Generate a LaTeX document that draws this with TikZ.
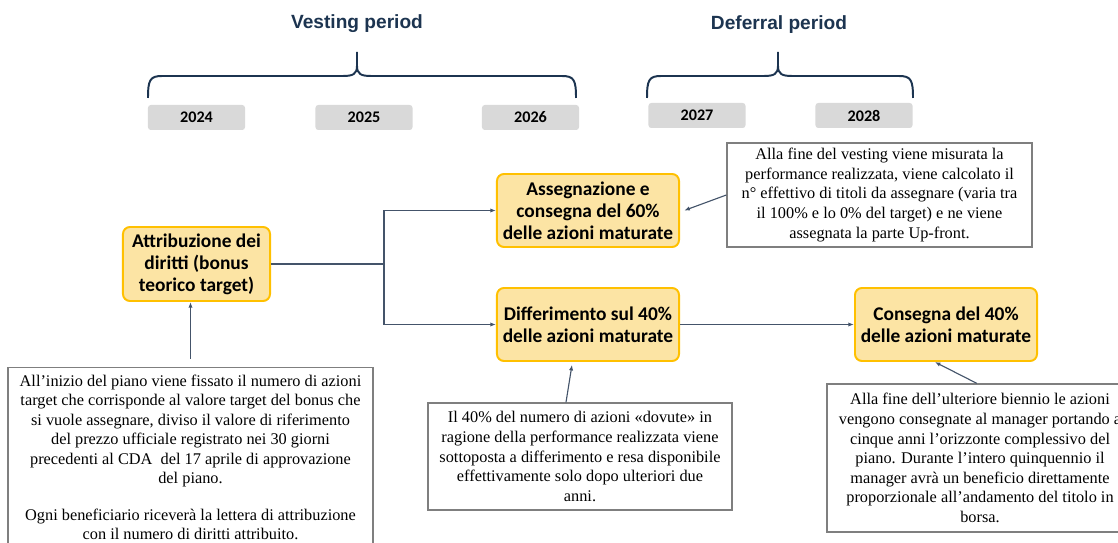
\documentclass[tikz,border=0pt]{standalone}
\usepackage{fontspec}
\setmainfont{Liberation Serif}
\newfontfamily\calibri{Carlito}
\newfontfamily\arial{Liberation Sans}
\usetikzlibrary{arrows.meta}
\definecolor{giallo}{HTML}{FCE4A4}
\definecolor{oro}{HTML}{FFC000}
\definecolor{grigio}{HTML}{D9D9D9}
\definecolor{bordo}{HTML}{7F7F7F}
\definecolor{linea}{HTML}{44546A}
\definecolor{blu}{HTML}{1C3450}
\tikzset{
  titolo/.style={text=blu, font=\arial\bfseries\fontsize{13.6}{16}\selectfont},
  anno/.style={fill=grigio, rounded corners=2pt, minimum width=2.425cm, minimum height=0.625cm, font=\calibri\bfseries\fontsize{11.5}{13}\selectfont},
  fase/.style={draw=oro, line width=1.4pt, fill=giallo, rounded corners=5pt, align=center, minimum width=4.55cm, minimum height=1.825cm, font=\calibri\bfseries\fontsize{13.8}{15.6}\selectfont},
  nota/.style={draw=bordo, line width=0.9pt, fill=white, align=center, font=\fontsize{11.6}{13.9}\selectfont},
  freccia/.style={draw=linea, line width=0.8pt, -{Latex[length=4pt,width=3pt]}},
  graffa/.style={draw=blu, line width=1.4pt, line join=round}
}
\begin{document}
\begin{tikzpicture}[x=0.025cm, y=-0.025cm]
\clip (0,0) rectangle (1118,543);
% periodi
\node[titolo] (vesting) at (357,24) {Vesting period};
\node[titolo] (deferral) at (779,25) {Deferral period};
\foreach \a/\c/\b in {148/357/576, 647/778/913}{
  \draw[graffa] (\a,98) .. controls (\a,80) and (\a+2,76) .. (\a+14,76) -- (\c-14,76)
    .. controls (\c-4,76) and (\c,74) .. (\c,66) -- (\c,52)
    (\c,66) .. controls (\c,74) and (\c+4,76) .. (\c+14,76) -- (\b-14,76)
    .. controls (\b-2,76) and (\b,80) .. (\b,98);
}
\node[anno] (a2024) at (196.5,117.5) {2024};
\node[anno] (a2025) at (364,117.5) {2025};
\node[anno] (a2026) at (530.5,117.5) {2026};
\node[anno] (a2027) at (697,115.5) {2027};
\node[anno] (a2028) at (864,115.5) {2028};
%
% fasi del piano
\node[fase, minimum width=3.675cm, minimum height=1.85cm] (attr) at (196.5,264) {Attribuzione dei\\diritti (bonus\\teorico target)};
\node[fase] (asseg) at (588,210.5) {Assegnazione e\\consegna del 60\%\\delle azioni maturate};
\node[fase] (diff) at (588,324.5) {Differimento sul 40\%\\delle azioni maturate};
\node[fase] (consegna) at (946,324.5) {Consegna del 40\%\\delle azioni maturate};
%
% note
\node[nota, minimum width=7.625cm, minimum height=2.6cm] (notaAsseg) at (879.5,195) {Alla fine del vesting viene misurata la\\performance realizzata, viene calcolato il\\n° effettivo di titoli da assegnare (varia tra\\il 100\% e lo 0\% del target) e ne viene\\assegnata la parte Up-front.};
\node[nota, anchor=north, minimum width=9.125cm, inner ysep=5pt] (notaAttr) at (190.5,367) {All’inizio del piano viene fissato il numero di azioni\\target che corrisponde al valore target del bonus che\\si vuole assegnare, diviso il valore di riferimento\\del prezzo ufficiale registrato nei 30 giorni\\precedenti al CDA~ del 17 aprile di approvazione\\del piano.\\[12pt]Ogni beneficiario riceverà la lettera di attribuzione\\con il numero di diritti attribuito.};
\node[nota, minimum width=7.6cm, minimum height=2.675cm] (notaDiff) at (580,456.5) {Il 40\% del numero di azioni «dovute» in\\ragione della performance realizzata viene\\sottoposta a differimento e resa disponibile\\effettivamente solo dopo ulteriori due\\anni.};
\node[nota, minimum width=7.65cm, minimum height=3.7cm] (notaCons) at (980,458) {Alla fine dell’ulteriore biennio le azioni\\vengono consegnate al manager portando a\\cinque anni l’orizzonte complessivo del\\piano. Durante l’intero quinquennio il\\manager avrà un beneficio direttamente\\proporzionale all’andamento del titolo in\\borsa.};
%
% collegamenti
\coordinate (bivio) at (384,264);
\draw[linea, line width=0.8pt] (attr.east) -- (bivio);
\draw[freccia] (bivio) |- (asseg.west);
\draw[freccia] (bivio) |- (diff.west);
\draw[freccia] (diff.east) -- (consegna.west);
\draw[freccia] (notaAsseg.west) -- ([xshift=3pt]asseg.east);
\draw[freccia, shorten <=6pt] (notaAttr.north) -- (notaAttr.north |- attr.south);
\draw[freccia] ([xshift=-0.35cm]notaDiff.north) -- ([xshift=-0.4cm, yshift=-2pt]diff.south);
\draw[freccia] ([xshift=-0.08cm]notaCons.north) -- ([xshift=-0.28cm]consegna.south);
\end{tikzpicture}
\end{document}
